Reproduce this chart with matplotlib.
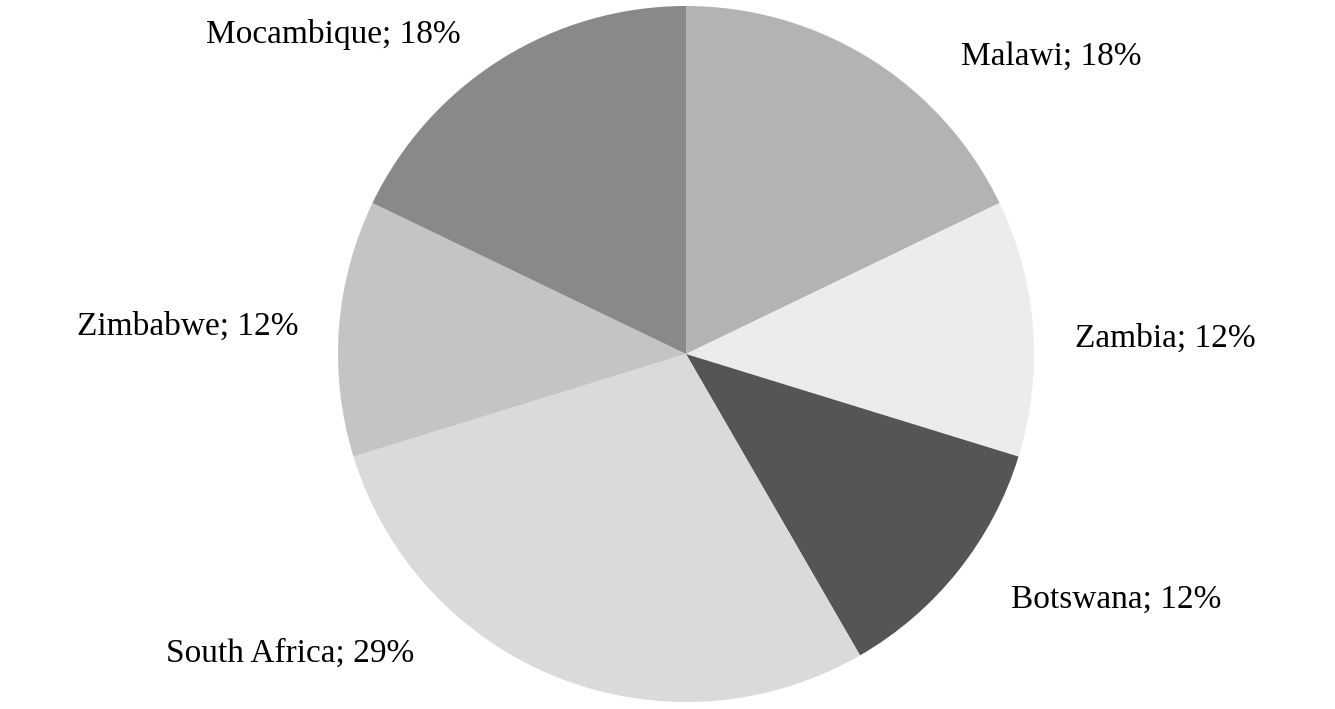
import matplotlib
matplotlib.use('Agg')
from matplotlib import pyplot as plt

# data (slice angles give 15:10:10:24:10:15)
countries = ['Malawi', 'Zambia', 'Botswana', 'South Africa', 'Zimbabwe', 'Mocambique']
counts = [15, 10, 10, 24, 10, 15]
colors = ['#b3b3b3', '#ececec', '#555555', '#dadada', '#c4c4c4', '#898989']

# label anchor points (figure pixels, y measured from top)
label_pos = [(1051, 57), (1165, 339), (1116, 600), (290, 654), (188, 327), (333, 35)]

plt.rcParams['font.family'] = ['Liberation Serif', 'DejaVu Serif']

fig = plt.figure(figsize=(13.35, 7.09), dpi=100)
ax = fig.add_axes([0, 0, 1, 1])

ax.pie(counts, colors=colors, startangle=90, counterclock=False,
       center=(686, 709 - 354), radius=348, frame=True,
       wedgeprops={'linewidth': 0})
ax.set_xlim(0, 1335)
ax.set_ylim(0, 709)
ax.axis('off')

total = sum(counts)
for name, c, (x, y) in zip(countries, counts, label_pos):
    pct = round(100 * c / total)
    ax.text(x, 709 - y, f'{name}; {pct}%', fontsize=24,
            ha='center', va='center', color='black')

plt.savefig('out.png', dpi=100)
